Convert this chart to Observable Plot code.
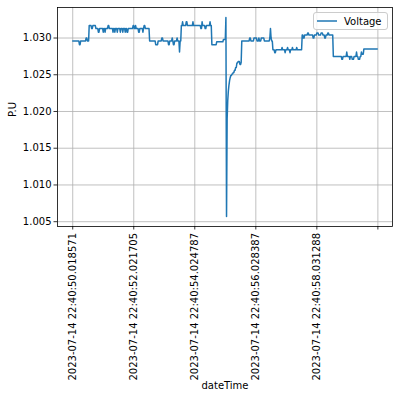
<!DOCTYPE html>
<html>
<head>
<meta charset="utf-8">
<script src="https://cdn.jsdelivr.net/npm/d3@7"></script>
<script src="https://cdn.jsdelivr.net/npm/@observablehq/plot@0.6"></script>
<style>
  html, body { margin: 0; padding: 0; background: #fff; }
  #wrap { position: relative; width: 398px; height: 400px; font-family: "DejaVu Sans", sans-serif; }
  #legend { position: absolute; left: 313px; top: 12px; width: 73px; height: 16px;
    border: 1px solid #cccccc; border-radius: 3px; background: rgba(255,255,255,0.8);
    display: flex; align-items: center; font-size: 10px; color: #000; }
  #legend svg { margin-left: 3px; margin-right: 7px; }
</style>
</head>
<body>
<div id="wrap"></div>
<script>
// Tick positions (sample index) and labels of the categorical x axis
const tickIndex = [0, 100, 200, 300, 400, 500];
const tickLabels = [
  "2023-07-14 22:40:50.018571",
  "2023-07-14 22:40:52.021705",
  "2023-07-14 22:40:54.024787",
  "2023-07-14 22:40:56.028387",
  "2023-07-14 22:40:58.031288",
  ""
];
const yTicks = [1.005, 1.010, 1.015, 1.020, 1.025, 1.030];
const sampleCount = 500;

// Voltage series, run-length encoded: sample index where a value starts, and that value
const runStart = [
  0, 11, 13, 22, 24, 27, 31, 33, 38, 42, 44, 50, 51, 53, 54, 58, 60, 66, 67, 69, 70, 73, 74, 78, 79,
  82, 83, 86, 87, 89, 91, 99, 101, 103, 104, 108, 110, 115, 116, 117, 119,
  126, 136, 140, 146, 148, 157, 159, 163, 164, 165, 167, 171, 172, 175, 176,
  178, 180, 181, 186, 188, 197, 198, 210, 212, 213, 217, 219, 225, 226,
  228, 236, 247, 251, 252, 253, 254, 255, 256, 257, 258, 259, 261, 263, 265, 267, 269, 271, 274, 276,
  277, 290, 292, 297, 302, 305, 306, 309, 314, 323, 324, 325, 326,
  328, 331, 333, 343, 344, 348, 349, 352, 353, 356, 357, 360, 361, 367, 368,
  376, 378, 380, 385, 387, 394, 396, 400, 403, 407, 410, 413, 415, 418, 420,
  427, 441, 443, 449, 450, 454, 455, 458, 461, 465, 466, 468, 471, 473, 474, 477
];
const runValue = [
  1.0296, 1.0291, 1.0296, 1.0300, 1.0296, 1.0317, 1.0313, 1.0317, 1.0313, 1.0308, 1.0313, 1.0308, 1.0313, 1.0308, 1.0313, 1.0317, 1.0313, 1.0308, 1.0313, 1.0308, 1.0313, 1.0308, 1.0313, 1.0308, 1.0313,
  1.0308, 1.0313, 1.0308, 1.0313, 1.0308, 1.0313, 1.0317, 1.0313, 1.0317, 1.0313, 1.0308, 1.0313, 1.0308, 1.0313, 1.0317, 1.0313,
  1.0296, 1.0291, 1.0296, 1.0300, 1.0296, 1.0291, 1.0296, 1.0300, 1.0296, 1.0291, 1.0296, 1.0300, 1.0296, 1.0281, 1.0296,
  1.0317, 1.0322, 1.0317, 1.0322, 1.0317, 1.0322, 1.0317, 1.0313, 1.0322, 1.0317, 1.0313, 1.0317, 1.0322, 1.0317,
  1.0291, 1.0295, 1.0298, 1.0328, 1.0057, 1.0190, 1.0215, 1.0228, 1.0236, 1.0242, 1.0246, 1.0249, 1.0251, 1.0253, 1.0256, 1.0260, 1.0266, 1.0268, 1.0264, 1.0267,
  1.0296, 1.0300, 1.0296, 1.0300, 1.0296, 1.0300, 1.0296, 1.0300, 1.0296, 1.0300, 1.0313, 1.0300, 1.0296,
  1.0284, 1.0280, 1.0284, 1.0287, 1.0284, 1.0280, 1.0284, 1.0287, 1.0284, 1.0280, 1.0284, 1.0287, 1.0284, 1.0287, 1.0284,
  1.0304, 1.0300, 1.0304, 1.0307, 1.0304, 1.0300, 1.0304, 1.0307, 1.0304, 1.0307, 1.0304, 1.0300, 1.0304, 1.0307, 1.0304,
  1.0275, 1.0271, 1.0275, 1.0281, 1.0275, 1.0271, 1.0275, 1.0271, 1.0275, 1.0281, 1.0275, 1.0271, 1.0275, 1.0281, 1.0278, 1.0285
];

// Expand runs into one record per sample
const series = [];
for (let r = 0; r < runStart.length; r++) {
  const end = r + 1 < runStart.length ? runStart[r + 1] : sampleCount;
  for (let i = runStart[r]; i < end; i++) series.push({i, v: runValue[r]});
}

const vMin = d3.min(series, d => d.v), vMax = d3.max(series, d => d.v);
const yPad = (vMax - vMin) * 0.05;
const xPad = (sampleCount - 1) * 0.05;

const gridStyle = {stroke: "#b0b0b0", strokeOpacity: 1, strokeWidth: 0.8};

const chart = Plot.plot({
  width: 398,
  height: 400,
  marginLeft: 57,
  marginRight: 6,
  marginTop: 7,
  marginBottom: 174,
  style: {fontFamily: "DejaVu Sans, sans-serif", fontSize: "10px", color: "#000", background: "#fff"},
  x: {domain: [-xPad, sampleCount - 1 + xPad]},
  y: {domain: [vMin - yPad, vMax + yPad]},
  marks: [
    Plot.gridX(tickIndex, gridStyle),
    Plot.gridY(yTicks, gridStyle),
    Plot.line(series, {x: "i", y: "v", stroke: "#1f77b4", strokeWidth: 1.5, strokeLinejoin: "round"}),
    Plot.frame({stroke: "#000", strokeWidth: 0.8}),
    Plot.axisX({ticks: tickIndex, tickFormat: (d, k) => tickLabels[tickIndex.indexOf(d)], tickRotate: -90,
      tickSize: 3.5, tickPadding: 3, label: null, strokeWidth: 0.8}),
    Plot.axisY({ticks: yTicks, tickFormat: d3.format(".3f"), tickSize: 3.5, tickPadding: 2.5, label: null, strokeWidth: 0.8}),
    Plot.text(["dateTime"], {frameAnchor: "bottom", dy: 162, fontSize: 10}),
    Plot.text(["P.U"], {frameAnchor: "left", rotate: -90, dx: -45, fontSize: 10})
  ]
});

const wrap = document.getElementById("wrap");
wrap.appendChild(chart);
const legend = document.createElement("div");
legend.id = "legend";
legend.innerHTML = '<svg width="20" height="4"><line x1="0" y1="2" x2="20" y2="2" stroke="#1f77b4" stroke-width="1.5"/></svg><span>Voltage</span>';
wrap.appendChild(legend);
</script>
</body>
</html>
